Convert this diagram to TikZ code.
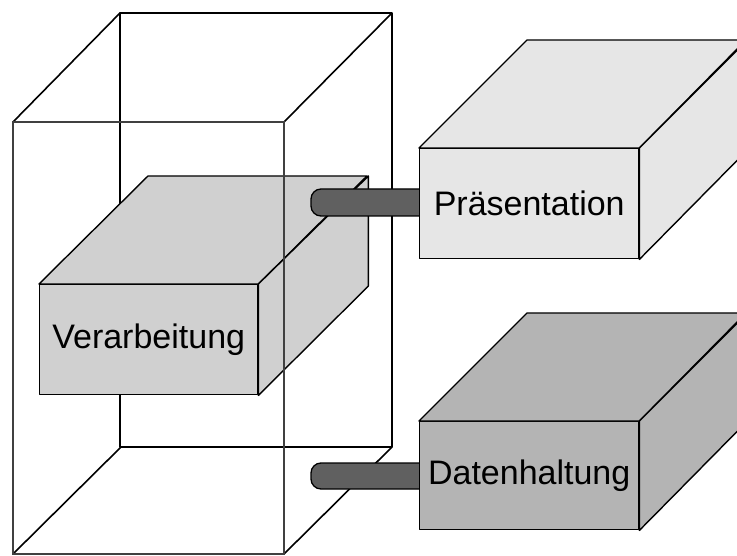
\documentclass[tikz,border=0pt]{standalone}
\usepackage{fontspec}
\setmainfont{Liberation Sans}
\begin{document}
\begin{tikzpicture}[x=1pt,y=-1pt,
  wire/.style={draw=black,line width=1.6pt,line join=round},
  frontwire/.style={draw=black!75,line width=1.4pt},
  face/.style={draw=black,line width=1.4pt,line join=round},
  frontface/.style={face,rectangle,anchor=north west,inner sep=0pt,
     font=\fontsize{34}{40}\selectfont},
  bar/.style={draw=black,line width=1.3pt,fill=barc,rounded corners=10pt}]
\definecolor{verc}{HTML}{D0D0D0}
\definecolor{prac}{HTML}{E6E6E6}
\definecolor{datc}{HTML}{B4B4B4}
\definecolor{barc}{HTML}{606060}
\useasboundingbox (0,0) rectangle (737,556);
\clip (0,0) rectangle (737,556);
% wireframe: back face and depth edges
\draw[wire] (120,13) rectangle (392,447);
\draw[wire] (13,122) -- (120,13);
\draw[wire] (284,122) -- (392,13);
\draw[wire] (13,554) -- (121,447);
\draw[wire] (284,554) -- (392,447);
% Verarbeitung
\node[frontface,fill=verc,minimum width=218pt,minimum height=110pt] (ver) at (39,284) {Verarbeitung};
\filldraw[face,fill=verc] (ver.north west) -- ++(109,-108) -- ++(219,0) -- (ver.north east) -- cycle;
\filldraw[face,fill=verc] (ver.north east) -- ++(110,-108) -- ++(0,110) -- (ver.south east) -- cycle;
% wireframe front face
\draw[frontwire] (13,122) rectangle (284,554);
% bars
\draw[bar] (430,189) rectangle (311,216);
\draw[bar] (430,463) rectangle (311,489);
% Präsentation
\node[frontface,fill=prac,minimum width=219pt,minimum height=110pt] (pra) at (419,148) {Präsentation};
\filldraw[face,fill=prac] (pra.north west) -- ++(108,-108) -- ++(219,0) -- (pra.north east) -- cycle;
\filldraw[face,fill=prac] (pra.north east) -- ++(108,-108) -- ++(0,110) -- (pra.south east) -- cycle;
% Datenhaltung
\node[frontface,fill=datc,minimum width=219pt,minimum height=108pt] (dat) at (419,421) {Datenhaltung};
\filldraw[face,fill=datc] (dat.north west) -- ++(108,-108) -- ++(219,0) -- (dat.north east) -- cycle;
\filldraw[face,fill=datc] (dat.north east) -- ++(108,-108) -- ++(0,108) -- (dat.south east) -- cycle;
\end{tikzpicture}
\end{document}
